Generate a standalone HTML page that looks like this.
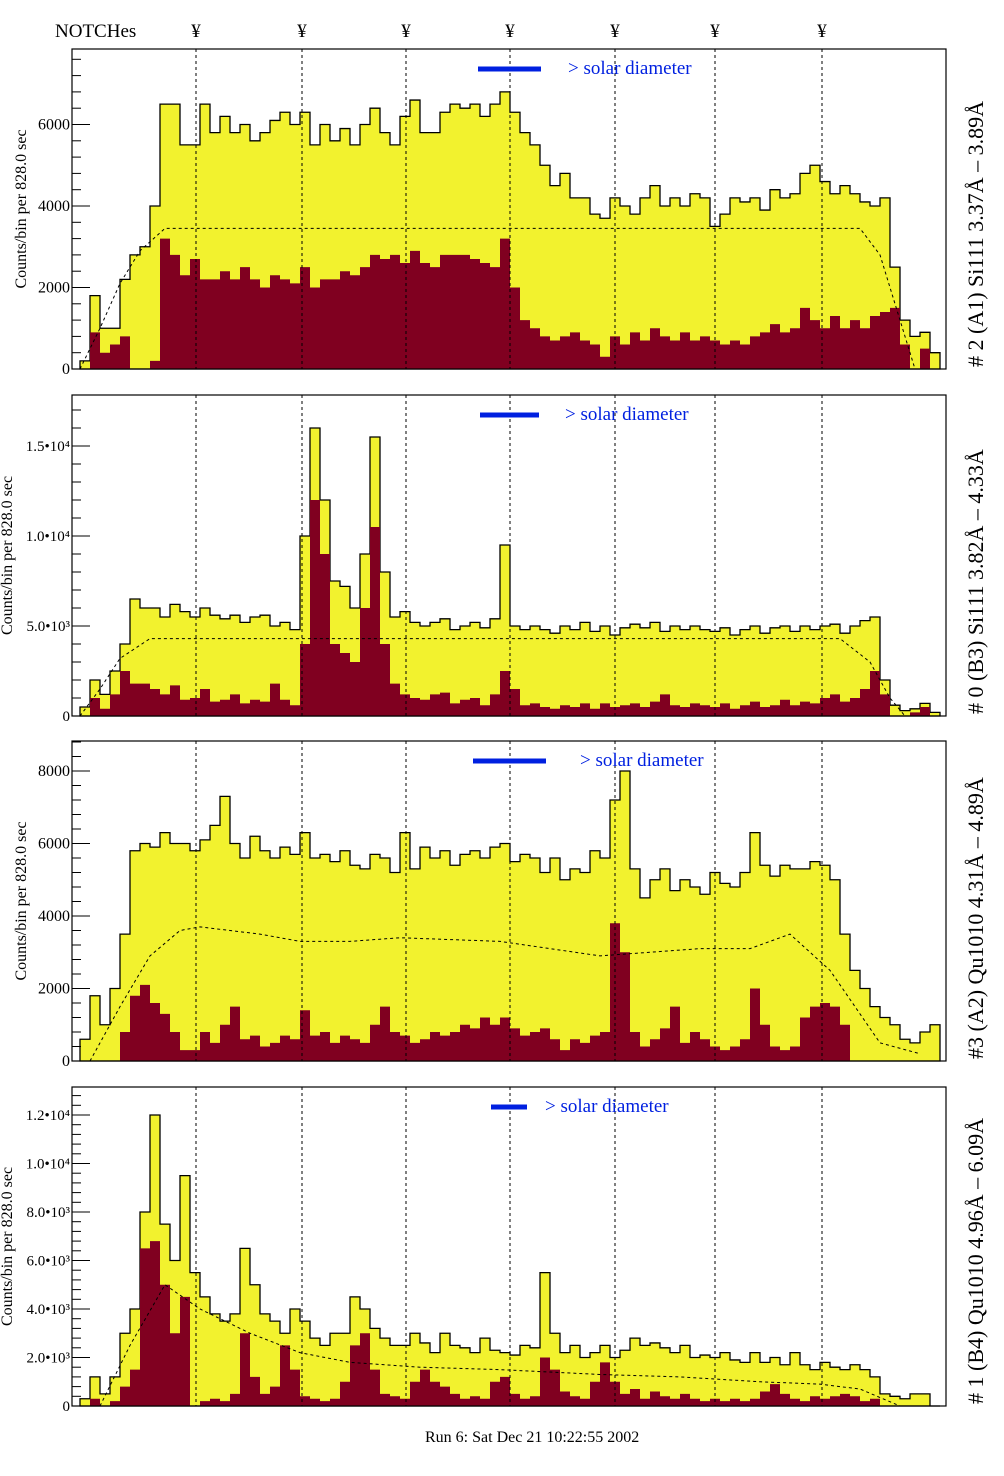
<!DOCTYPE html>
<html><head><meta charset="utf-8"><style>
body{margin:0;background:#fff;}
svg{display:block;font-family:"Liberation Serif",serif;}
</style></head><body>
<svg id="chart" width="1004" height="1476" viewBox="0 0 1004 1476" xmlns="http://www.w3.org/2000/svg">
<rect width="1004" height="1476" fill="#fff"/>
<g id="root"></g>
</svg>
<script>
const yellow1=[200,1800,1000,1000,2200,2800,3000,4000,6500,6500,5500,5500,6500,5800,6200,5800,6000,5600,5800,6100,6300,6000,6300,5500,6000,5600,5900,5500,6000,6400,5800,5500,6200,6600,5800,5800,6300,6500,6400,6500,6200,6500,6800,6300,5800,5500,5000,4500,4800,4200,4200,3800,3700,4200,4000,3800,4200,4500,4000,4200,4000,4300,4200,3500,3800,4200,4100,4200,3900,4400,4200,4300,4800,5000,4600,4300,4500,4300,4100,4000,4200,2500,1200,800,900,400];
const red1=[0,900,400,600,800,0,0,200,3200,2800,2300,2700,2200,2200,2400,2200,2500,2200,2000,2300,2200,2100,2500,2000,2200,2200,2400,2300,2500,2800,2700,2800,2600,2900,2600,2500,2800,2800,2800,2700,2600,2500,3200,2000,1200,1000,800,700,800,900,700,600,300,800,600,900,700,1000,800,700,900,700,800,700,600,700,600,800,900,1100,900,1000,1500,1200,1000,1300,1000,1200,1000,1300,1400,1500,600,0,500,0];
const yellow2=[500,2000,1200,2500,4000,6500,6000,6000,5500,6200,5800,5500,6000,5600,5400,5600,5200,5500,5600,5000,5200,4800,10000,16000,12000,7500,7200,6000,9000,15500,8000,5500,5800,5200,5000,5200,5400,4800,5000,5200,4900,5400,9500,5000,4800,5000,4800,4600,5000,4800,5200,4700,5000,4500,4900,5100,4900,5200,4700,5000,4800,5000,4800,4700,4900,4500,4800,5000,4600,4900,5000,4700,5000,4800,5000,5100,4600,5000,5300,5500,2000,600,300,400,700,200];
const red2=[0,1000,400,1200,2500,1800,1800,1500,1200,1700,900,1000,1500,800,900,1200,700,900,800,1800,900,600,4000,12000,9000,4000,3500,3000,6000,10500,4000,1800,1200,1000,900,1200,1300,700,900,1000,600,1200,2500,1500,600,700,500,400,600,500,700,400,700,500,600,700,500,800,1200,600,500,700,600,500,700,400,600,800,500,600,900,600,800,700,1000,1200,800,1000,1500,2500,1200,0,0,200,500,0];
const yellow3=[600,1800,1000,2000,3500,5800,6000,5900,6300,6000,6000,5800,6100,6500,7300,6000,5600,6200,5800,5600,5900,5700,6300,5600,5700,5500,5800,5400,5300,5700,5600,5200,6300,5300,5900,5600,5800,5400,5700,5800,5600,5900,6000,5500,5700,5600,5200,5600,5000,5300,5200,5800,5600,7200,8000,5300,4500,5000,5300,4700,5000,4800,4600,5200,4900,4800,5200,6300,5400,5100,5400,5300,5300,5500,5400,5000,3500,2500,2000,1500,1200,1000,600,500,800,1000];
const red3=[0,0,0,0,800,1800,2100,1600,1300,800,300,300,800,500,1000,1500,600,700,400,500,700,600,1400,700,800,500,700,600,500,1000,1500,800,700,500,600,800,700,800,1000,900,1200,1000,1200,900,700,800,900,600,300,600,500,700,800,3800,3000,800,400,600,900,1500,500,800,600,400,300,400,600,2000,1000,400,300,400,1200,1500,1600,1500,1000,0,0,0,0,0,0,0,0,0];
const yellow4=[300,1200,500,1200,3000,4000,8000,12000,7500,6000,9500,5500,4500,3800,3500,3800,6500,5000,3800,3500,3000,4000,3500,2800,2500,3000,3000,4500,4000,3200,2800,2500,2500,3000,2600,2200,3000,2500,2400,2200,2800,2300,2200,2100,2500,2400,5500,3000,2200,2500,2000,2200,2500,2000,2300,2800,2500,2600,2400,2200,2500,2000,2100,2000,2200,1900,1800,2200,1800,2000,1700,2200,1700,1500,1800,1600,1500,1700,1500,1200,500,400,300,500,500,0];
const red4=[0,300,0,200,800,1500,6500,6800,5000,3000,4500,0,200,300,200,500,3000,1200,500,800,2500,1500,400,300,200,300,1000,2500,3000,1500,500,400,300,1000,1500,1000,800,500,300,400,300,1000,1200,500,300,400,2000,1500,600,400,300,1000,1800,1000,500,700,300,600,400,300,500,300,200,300,200,300,200,300,600,900,500,300,200,400,300,400,500,400,200,300,0,0,0,0,0,0];
const curve1=[[80,0],[100,1000],[120,2100],[140,2900],[165,3450],[860,3450],[880,2800],[900,1200],[915,0]];
const curve2=[[80,0],[100,1500],[120,3200],[150,4300],[840,4300],[870,3000],[890,1000],[905,0]];
const curve3=[[90,0],[120,1500],[150,2900],[180,3600],[200,3700],[260,3500],[300,3300],[350,3300],[400,3400],[500,3300],[600,2900],[700,3100],[750,3100],[790,3500],[830,2500],[880,500],[920,200]];
const curve4=[[100,0],[130,2500],[165,5000],[200,4000],[250,3000],[300,2200],[350,1800],[420,1600],[500,1500],[600,1300],[680,1200],[760,1000],[820,900],[860,700],[900,0]];
const yTicks1=[0,2000,4000,6000];
const yTickLabels1=["0","2000","4000","6000"];
const yTicks2=[0,5000,10000,15000];
const yTickLabels2=["0","5.0•10³","1.0•10⁴","1.5•10⁴"];
const yTicks3=[0,2000,4000,6000,8000];
const yTickLabels3=["0","2000","4000","6000","8000"];
const yTicks4=[0,2000,4000,6000,8000,10000,12000];
const yTickLabels4=["0","2.0•10³","4.0•10³","6.0•10³","8.0•10³","1.0•10⁴","1.2•10⁴"];
const notchX=[196,302,406,510,615,715,822];
const panelTitles=["# 2 (A1) Si111  3.37Å – 3.89Å","# 0 (B3) Si111  3.82Å – 4.33Å","#3 (A2) Qu1010  4.31Å – 4.89Å","# 1 (B4) Qu1010 4.96Å – 6.09Å"];

const NS="http://www.w3.org/2000/svg";
const root=document.getElementById('root');
function mk(tag,attrs,parent){const e=document.createElementNS(NS,tag);for(const k in attrs)e.setAttribute(k,attrs[k]);(parent||root).appendChild(e);return e;}
const X0=72,X1=946,BX=80,BW=10;
const panels=[
 {top:49,bot:369,scale:81.5/2000,yel:yellow1,red:red1,curve:curve1,ticks:yTicks1,labels:yTickLabels1,solar:[478,541],solarTxt:568,solarY:68,fs:16,tx:22},
 {top:395,bot:716,scale:90/5000,yel:yellow2,red:red2,curve:curve2,ticks:yTicks2,labels:yTickLabels2,solar:[480,539],solarTxt:565,solarY:414,fs:15,tx:8},
 {top:741,bot:1061,scale:72.5/2000,yel:yellow3,red:red3,curve:curve3,ticks:yTicks3,labels:yTickLabels3,solar:[473,546],solarTxt:580,solarY:760,fs:16,tx:22},
 {top:1087,bot:1406,scale:48.5/2000,yel:yellow4,red:red4,curve:curve4,ticks:yTicks4,labels:yTickLabels4,solar:[491,527],solarTxt:545,solarY:1106,fs:15,tx:8}
];
function stepPath(vals,y){let d=`M${BX},${y(0)}`;vals.forEach((v,i)=>{const x=BX+i*BW;d+=`L${x},${y(v)}L${x+BW},${y(v)}`;});d+=`L${BX+vals.length*BW},${y(0)}Z`;return d;}
panels.forEach((p,pi)=>{
  const g=mk('g',{});
  
  
  const y=v=>Math.max(p.top,p.bot-v*p.scale);
  const yel=mk('path',{d:stepPath(p.yel,y),fill:'#f2f22e',stroke:'#000','stroke-width':1.3},g);
  
  
  const red=mk('path',{d:stepPath(p.red,y),fill:'#800020',stroke:'none'},g);
  
  
  const cd=p.curve.map((c,i)=>(i?'L':'M')+c[0]+','+y(c[1])).join('');
  const cv=mk('path',{d:cd,fill:'none',stroke:'#000','stroke-width':1,'stroke-dasharray':'3,3'},g);
  
  
  notchX.forEach(nx=>{const l=mk('line',{x1:nx,x2:nx,y1:p.top,y2:p.bot,stroke:'#000','stroke-width':1,'stroke-dasharray':'3,3'},g);
    
    });
  const fr=mk('rect',{x:X0,y:p.top,width:X1-X0,height:p.bot-p.top,fill:'none',stroke:'#000','stroke-width':1.2},g);
  
  
  const step=p.ticks[1]-p.ticks[0];
  for(let v=step/5;p.bot-v*p.scale>p.top;v+=step/5){const ty=p.bot-v*p.scale;mk('line',{x1:X0,x2:X0+9,y1:ty,y2:ty,stroke:'#000'},g);}
  p.ticks.forEach((t,i)=>{const ty=p.bot-t*p.scale;
    mk('line',{x1:X0,x2:X0+18,y1:ty,y2:ty,stroke:'#000'},g);
    const tl=mk('text',{x:X0-2,y:ty+5,'text-anchor':'end','font-size':p.fs},g);
    tl.textContent=p.labels[i];
    
    });
  const at=mk('text',{transform:`translate(${p.tx+4},${(p.top+p.bot)/2}) rotate(-90)`,'font-size':16,'text-anchor':'middle'},g);
  at.textContent='Counts/bin per    828.0 sec';
  
  
  const sb=mk('line',{x1:p.solar[0],x2:p.solar[1],y1:p.solarY+1,y2:p.solarY+1,stroke:'#0020e0','stroke-width':5},g);
  
  
  const st=mk('text',{x:p.solarTxt,y:p.solarY+6,'font-size':19,fill:'#0020e0'},g);
  st.textContent='> solar diameter';
  
  
  const pt=mk('text',{transform:`translate(983,${p.bot-2}) rotate(-90)`,'font-size':22},g);
  pt.textContent=panelTitles[pi];
  
  
});
const nt=mk('text',{x:55,y:37,'font-size':19});
nt.textContent='NOTCHes';


notchX.forEach(nx=>{const t=mk('text',{x:nx,y:37,'font-size':19,'text-anchor':'middle'});t.textContent='¥';
  
  });
const ft=mk('text',{x:425,y:1442,'font-size':16});
ft.textContent='Run 6: Sat Dec 21 10:22:55 2002';


</script>
</body></html>
